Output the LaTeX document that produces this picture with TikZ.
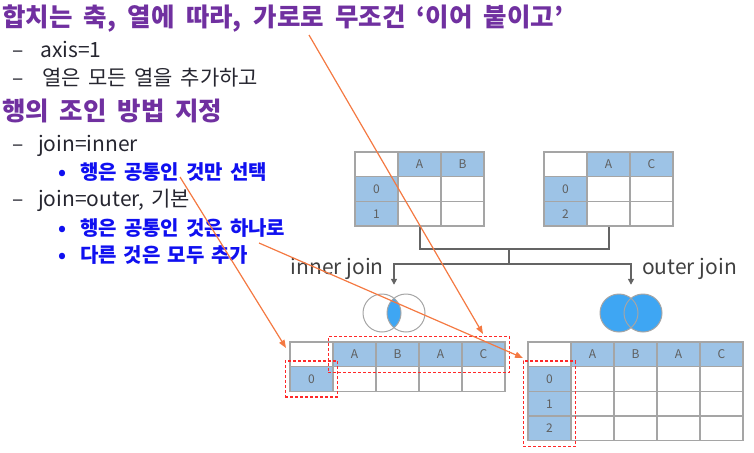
\documentclass[tikz,border=0pt]{standalone}
\usepackage{fontspec}
\setmainfont{Noto Sans CJK KR}
\newfontfamily\headfont{Noto Sans CJK KR}
\newfontfamily\bodyfont{Noto Sans CJK KR}[WordSpace=1.5]
\usetikzlibrary{positioning,fit,arrows.meta}

\definecolor{titlepurple}{RGB}{112,48,160}
\definecolor{itemblue}{RGB}{16,16,240}
\definecolor{bodytext}{RGB}{38,38,48}
\definecolor{hdrblue}{RGB}{157,195,230}
\definecolor{gridgray}{RGB}{165,165,165}
\definecolor{lblgray}{RGB}{95,95,95}
\definecolor{joingray}{RGB}{64,64,64}
\definecolor{linegray}{RGB}{100,100,100}
\definecolor{vennblue}{RGB}{62,166,243}
\definecolor{hintorange}{RGB}{244,121,66}
\definecolor{markred}{RGB}{255,40,40}

\begin{document}
\begin{tikzpicture}[x=1pt, y=-1pt,
    heading/.style={anchor=base west, inner sep=0pt, text=titlepurple,
      font=\headfont\fontsize{25.5}{30}\selectfont\bfseries},
    body/.style={anchor=base west, inner sep=0pt, text=bodytext,
      font=\bodyfont\fontsize{21}{25}\selectfont},
    item/.style={anchor=base west, inner sep=0pt, text=itemblue,
      font=\bodyfont\fontsize{20}{24}\selectfont\bfseries},
    cell/.style={draw=gridgray, line width=1.3pt, fill=white,
      minimum width=43pt, minimum height=24.7pt, inner sep=0pt,
      text=lblgray, font=\fontsize{12}{14}\selectfont},
    hcell/.style={cell, fill=hdrblue},
    conn/.style={draw=linegray, line width=2pt},
    venn/.style={draw=gridgray, line width=1pt},
    joinlbl/.style={inner sep=0pt, text=joingray, font=\fontsize{21}{26}\selectfont},
    redbox/.style={draw=markred, dash pattern=on 3pt off 2pt, line width=1.2pt,
      inner xsep=4pt, inner ysep=5pt},
    hint/.style={draw=hintorange, line width=1.2pt, -{Triangle[length=8pt,width=6pt]}}
  ]
\useasboundingbox (0,0) rectangle (754,452);

% text on the left
\node[heading] (title1) at (2,27) {\makebox[561pt][s]{합치는 축, 열에 따라, 가로로 무조건 ‘이어 붙이고’}};
\node[body] (axis) at (12,57) {\makebox[28pt][l]{–}axis=1};
\node[body] (allcols) at (12,85) {\makebox[30pt][l]{–}\makebox[216pt][s]{열은 모든 열을 추가하고}};
\node[heading] (title2) at (2,120) {\makebox[220pt][s]{행의 조인 방법 지정}};
\node[body] (inner) at (12,151) {\makebox[26pt][l]{–}join=inner};
\node[item] (common) at (58,179) {\makebox[22pt][l]{•}\makebox[187pt][s]{행은 공통인 것만 선택}};
\node[body] (outer) at (12,206) {\makebox[26pt][l]{–}join=outer, 기본};
\node[item] (merge) at (58,235) {\makebox[22pt][l]{•}\makebox[205pt][s]{행은 공통인 것은 하나로}};
\node[item] (addrest) at (58,262) {\makebox[22pt][l]{•}\makebox[168pt][s]{다른 것은 모두 추가}};

% first input frame
\begin{scope}[shift={(355,152)}]
  \node[cell] (a-0-0) at (21.5,12.35) {};
  \foreach \t [count=\c] in {A,B}
    \node[hcell] (a-0-\c) at (43*\c+21.5,12.35) {\t};
  \foreach \t [count=\r] in {0,1} {
    \node[hcell] (a-\r-0) at (21.5,24.7*\r+12.35) {\t};
    \foreach \c in {1,2}
      \node[cell] (a-\r-\c) at (43*\c+21.5,24.7*\r+12.35) {};
  }
\end{scope}

% second input frame
\begin{scope}[shift={(544,152)}]
  \node[cell] (b-0-0) at (21.5,12.35) {};
  \foreach \t [count=\c] in {A,C}
    \node[hcell] (b-0-\c) at (43*\c+21.5,12.35) {\t};
  \foreach \t [count=\r] in {0,2} {
    \node[hcell] (b-\r-0) at (21.5,24.7*\r+12.35) {\t};
    \foreach \c in {1,2}
      \node[cell] (b-\r-\c) at (43*\c+21.5,24.7*\r+12.35) {};
  }
\end{scope}

% inner result
\begin{scope}[shift={(290,342)}]
  \node[cell] (c-0-0) at (21.5,12.35) {};
  \foreach \t [count=\c] in {A,B,A,C}
    \node[hcell] (c-0-\c) at (43*\c+21.5,12.35) {\t};
  \foreach \t [count=\r] in {0} {
    \node[hcell] (c-\r-0) at (21.5,24.7*\r+12.35) {\t};
    \foreach \c in {1,...,4}
      \node[cell] (c-\r-\c) at (43*\c+21.5,24.7*\r+12.35) {};
  }
\end{scope}

% outer result
\begin{scope}[shift={(528,342)}]
  \node[cell] (d-0-0) at (21.5,12.35) {};
  \foreach \t [count=\c] in {A,B,A,C}
    \node[hcell] (d-0-\c) at (43*\c+21.5,12.35) {\t};
  \foreach \t [count=\r] in {0,1,2} {
    \node[hcell] (d-\r-0) at (21.5,24.7*\r+12.35) {\t};
    \foreach \c in {1,...,4}
      \node[cell] (d-\r-\c) at (43*\c+21.5,24.7*\r+12.35) {};
  }
\end{scope}

% venn diagrams
\begin{scope}
  \clip (382,313) circle (19pt);
  \fill[vennblue] (406,313) circle (19pt);
\end{scope}
\draw[venn] (382,313) circle (19pt) (406,313) circle (19pt);
\node[circle, minimum size=38pt, inner sep=0pt] (iv) at (394,313) {};
\fill[vennblue] (619,313) circle (19pt) (643,313) circle (19pt);
\draw[venn] (619,313) circle (19pt) (643,313) circle (19pt);
\node[circle, minimum size=38pt, inner sep=0pt] (ov) at (631,313) {};

% connectors
\coordinate (split) at (509,249);
\coordinate (fork) at (509,264);
\draw[conn] (a-2-1.south) |- (split) -| (b-2-1.south);
\draw[conn] (split) -- (fork);
\draw[conn, -{Triangle[length=6pt,width=6pt]}, shorten >=9pt] (fork) -| (iv);
\draw[conn, -{Triangle[length=6pt,width=6pt]}, shorten >=9pt] (fork) -| (ov);
\node[joinlbl, anchor=base east] (innerlbl) at (384,274) {inner join};
\node[joinlbl, anchor=base west] (outerlbl) at (642,274) {outer join};

% dashed marks
\node[redbox, fit=(c-0-1)(c-0-4)] (hdrbox) {};
\node[redbox, fit=(c-1-0)] (ibox) {};
\node[redbox, fit=(d-1-0)(d-3-0)] (obox) {};

% pointers from the text
\coordinate (from-concat) at (309,35);
\coordinate (to-concat) at (483,334);
\coordinate (from-common) at (180,177);
\coordinate (to-common) at (286,348);
\coordinate (from-merge) at (259,243);
\coordinate (to-merge) at (523,358);
\draw[hint] (from-concat) -- (to-concat);
\draw[hint] (from-common) -- (to-common);
\draw[hint] (from-merge) -- (to-merge);
\end{tikzpicture}
\end{document}
